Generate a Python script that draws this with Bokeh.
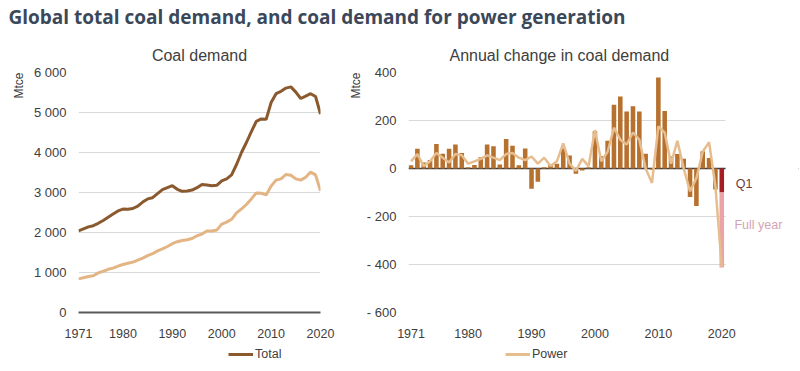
from bokeh.plotting import figure
from bokeh.models import (Range1d, FixedTicker, Label, Legend, LegendItem, Span, Title,
                          BoxAnnotation)
from bokeh.core.properties import value
from bokeh.layouts import column, row
from bokeh.embed import file_html
from bokeh.resources import INLINE

# ---------------- data ----------------
years = list(range(1971, 2021))
total_demand = [2040, 2090, 2140, 2170, 2230, 2300, 2380, 2460, 2540, 2585,
                2580, 2600, 2660, 2760, 2840, 2870, 2970, 3070, 3120, 3170,
                3080, 3030, 3040, 3060, 3120, 3200, 3190, 3170, 3180, 3290,
                3340, 3440, 3700, 4000, 4250, 4520, 4780, 4840, 4830, 5250,
                5470, 5530, 5610, 5640, 5510, 5350, 5410, 5470, 5400, 4960]
power_demand = [840, 870, 900, 920, 990, 1030, 1080, 1110, 1160, 1200,
                1230, 1260, 1310, 1360, 1420, 1470, 1540, 1590, 1650, 1720,
                1770, 1800, 1820, 1850, 1920, 1960, 2040, 2040, 2060, 2210,
                2260, 2330, 2490, 2590, 2700, 2840, 2990, 2980, 2940, 3160,
                3310, 3340, 3450, 3430, 3340, 3310, 3380, 3510, 3440, 3040]

change_years = list(range(1971, 2020))
total_change = [14, 82, 25, 35, 102, 61, 82, 100, 65, 5,
                15, 47, 100, 93, 17, 123, 95, 14, 83, -84,
                -55, 5, 15, 20, 83, 54, -22, -8, 5, 155,
                51, 116, 266, 300, 238, 259, 238, 61, -5, 379,
                240, 50, 60, 41, -119, -156, 72, 44, -87]
power_change_years = list(range(1971, 2021))
power_change = [30, 60, 10, 30, 65, 45, 25, 60, 55, 20,
                30, 40, 55, 45, 35, 60, 65, 45, 35, 50,
                20, 45, 10, 30, 105, 20, -10, 40, 10, 160,
                30, 70, 170, 120, 100, 150, 120, 0, -60, 175,
                150, 20, 115, 0, -95, -40, 70, 110, -75, -410]
year_2020 = [2020]
q1_2020 = [-100]
full_year_2020 = [-412]
annot_labels = ["Q1", "Full year"]

x_tick_years = [1971, 1980, 1990, 2000, 2010, 2020]
left_y_ticks = [0, 1000, 2000, 3000, 4000, 5000, 6000]
right_y_ticks = [-600, -400, -200, 0, 200, 400]

# ---------------- styles ----------------
FONT = "Liberation Sans"
TXT = "#404040"
GRID = "#d9d9d9"
C_TOTAL = "#8a5a2e"
C_POWER = "#e3b584"
C_POWER_R = "#e6bd8e"
C_BAR = "#b7712f"
C_Q1 = "#a61e22"
C_FULL = "#e8a4a6"
TOP_H = 36
ROW_H = 309
BOTTOM_H = 26
TOP_B = 36
BOT_B = 33


def style_axes(p, yticks, ylabels):
    p.xaxis.ticker = FixedTicker(ticks=x_tick_years)
    p.yaxis.ticker = FixedTicker(ticks=yticks)
    p.yaxis.major_label_overrides = ylabels
    for ax in (p.xaxis[0], p.yaxis[0]):
        ax.major_tick_line_color = None
        ax.minor_tick_line_color = None
        ax.major_tick_out = 0
        ax.major_tick_in = 0
        ax.minor_tick_out = 0
        ax.minor_tick_in = 0
        ax.major_label_text_font = FONT
        ax.major_label_text_color = TXT
    p.yaxis.axis_line_color = None
    p.yaxis.major_label_text_font_size = "13px"
    p.yaxis.major_label_standoff = 12
    p.xaxis.major_label_text_font_size = "12.5px"
    p.xaxis.major_label_standoff = 16
    p.xgrid.grid_line_color = None
    p.ygrid.ticker = FixedTicker(ticks=yticks)
    p.ygrid.grid_line_color = GRID
    p.ygrid.grid_line_width = 1
    p.outline_line_color = None
    p.background_fill_color = "white"
    p.border_fill_color = "white"


def style_title(p, text, align, offset):
    p.title.text = text
    p.title.align = align
    p.title.offset = offset
    p.title.text_font = FONT
    p.title.text_font_size = "16px"
    p.title.text_font_style = "normal"
    p.title.text_color = TXT
    p.title.standoff = 17


def bare_strip(width, height):
    f = figure(width=width, height=height, x_range=Range1d(0, width), y_range=Range1d(0, height),
               toolbar_location=None, output_backend="svg", min_border=0,
               x_axis_type=None, y_axis_type=None)
    f.grid.grid_line_color = None
    f.outline_line_color = None
    f.background_fill_color = "white"
    f.border_fill_color = "white"
    return f


# ---------------- title strip ----------------
top = bare_strip(800, TOP_H)
top.add_layout(Label(x=8, y=TOP_H - 16,
                     text="Global total coal demand, and coal demand for power generation",
                     text_font="Open Sans", text_font_size="19px", text_font_style="bold",
                     text_color="#3b4859", text_align="left", text_baseline="alphabetic"))

# ---------------- left chart ----------------
left = figure(width=345, height=ROW_H, x_range=Range1d(1971, 2020), y_range=Range1d(0, 6000),
              toolbar_location=None, output_backend="svg",
              min_border_left=78, min_border_right=25, min_border_top=TOP_B,
              min_border_bottom=BOT_B)
style_axes(left, left_y_ticks, {v: f"{v:,}".replace(",", " ") for v in left_y_ticks})
left.xaxis.axis_line_color = "#595959"
left.xaxis.axis_line_width = 2
style_title(left, "Coal demand", "center", 0)
left.add_layout(Title(text="Mtce", align="right", text_font=FONT, text_font_size="12px",
                      text_font_style="normal", text_color=TXT, standoff=10), "left")

left.line(years, power_demand, line_color=C_POWER, line_width=3)
left.line(years, total_demand, line_color=C_TOTAL, line_width=3)

# ---------------- right chart ----------------
right = figure(width=455, height=ROW_H, x_range=Range1d(1970.6, 2032.1),
               y_range=Range1d(-600, 400), toolbar_location=None, output_backend="svg",
               min_border_left=63, min_border_right=2, min_border_top=TOP_B,
               min_border_bottom=BOT_B)
style_axes(right, right_y_ticks,
           {v: (f"- {abs(v)}" if v < 0 else str(v)) for v in right_y_ticks})
right.xaxis.axis_line_color = None
style_title(right, "Annual change in coal demand", "left", 41)
right.add_layout(Title(text="Mtce", align="right", text_font=FONT, text_font_size="12px",
                       text_font_style="normal", text_color=TXT, standoff=2), "left")

# zero line, and a white cover that stops grid lines at the end of the year axis
right.add_layout(Span(location=0, dimension="width", line_color="#3a3a3a", line_width=1.5,
                      level="underlay"))
right.add_layout(BoxAnnotation(left=2020.6, fill_color="white", fill_alpha=1.0,
                               line_color=None, level="underlay"))

right.vbar(x=change_years, top=total_change, bottom=0, width=0.72, fill_color=C_BAR,
           line_color=None)
right.vbar(x=year_2020, top=q1_2020, bottom=0, width=0.72, fill_color=C_Q1, line_color=None)
right.vbar(x=year_2020, top=q1_2020, bottom=full_year_2020, width=0.72, fill_color=C_FULL,
           line_color=None)
right.line(power_change_years, power_change, line_color=C_POWER_R, line_width=2.5)

right.text(x=[2022.2, 2022.0], y=[-66, -236], text=annot_labels,
           text_color=["#6e3a3c", "#d4a3b3"], text_font=value(FONT),
           text_font_size="12.5px", text_align="left", text_baseline="middle")

# ---------------- legend strip ----------------
# the series are drawn here only to give the legend its line samples; they lie
# outside this strip's ranges, so only the legend shows
bottom = bare_strip(800, BOTTOM_H)
lg_total = bottom.line(years, total_demand, line_color=C_TOTAL, line_width=3)
lg_power = bottom.line(power_change_years, power_change, line_color=C_POWER_R, line_width=3)


def make_legend(label, renderer, x_off):
    return Legend(items=[LegendItem(label=label, renderers=[renderer])], location=(x_off, 9),
                  border_line_color=None, background_fill_alpha=0, padding=0, margin=0,
                  glyph_width=25, glyph_height=16, label_height=16, label_standoff=2,
                  label_text_font=FONT, label_text_font_size="12.5px", label_text_color=TXT)


bottom.add_layout(make_legend("Total", lg_total, 228))
bottom.add_layout(make_legend("Power", lg_power, 505))

layout = column(top, row(left, right), bottom)
open("out.html", "w").write(file_html(layout, INLINE))
